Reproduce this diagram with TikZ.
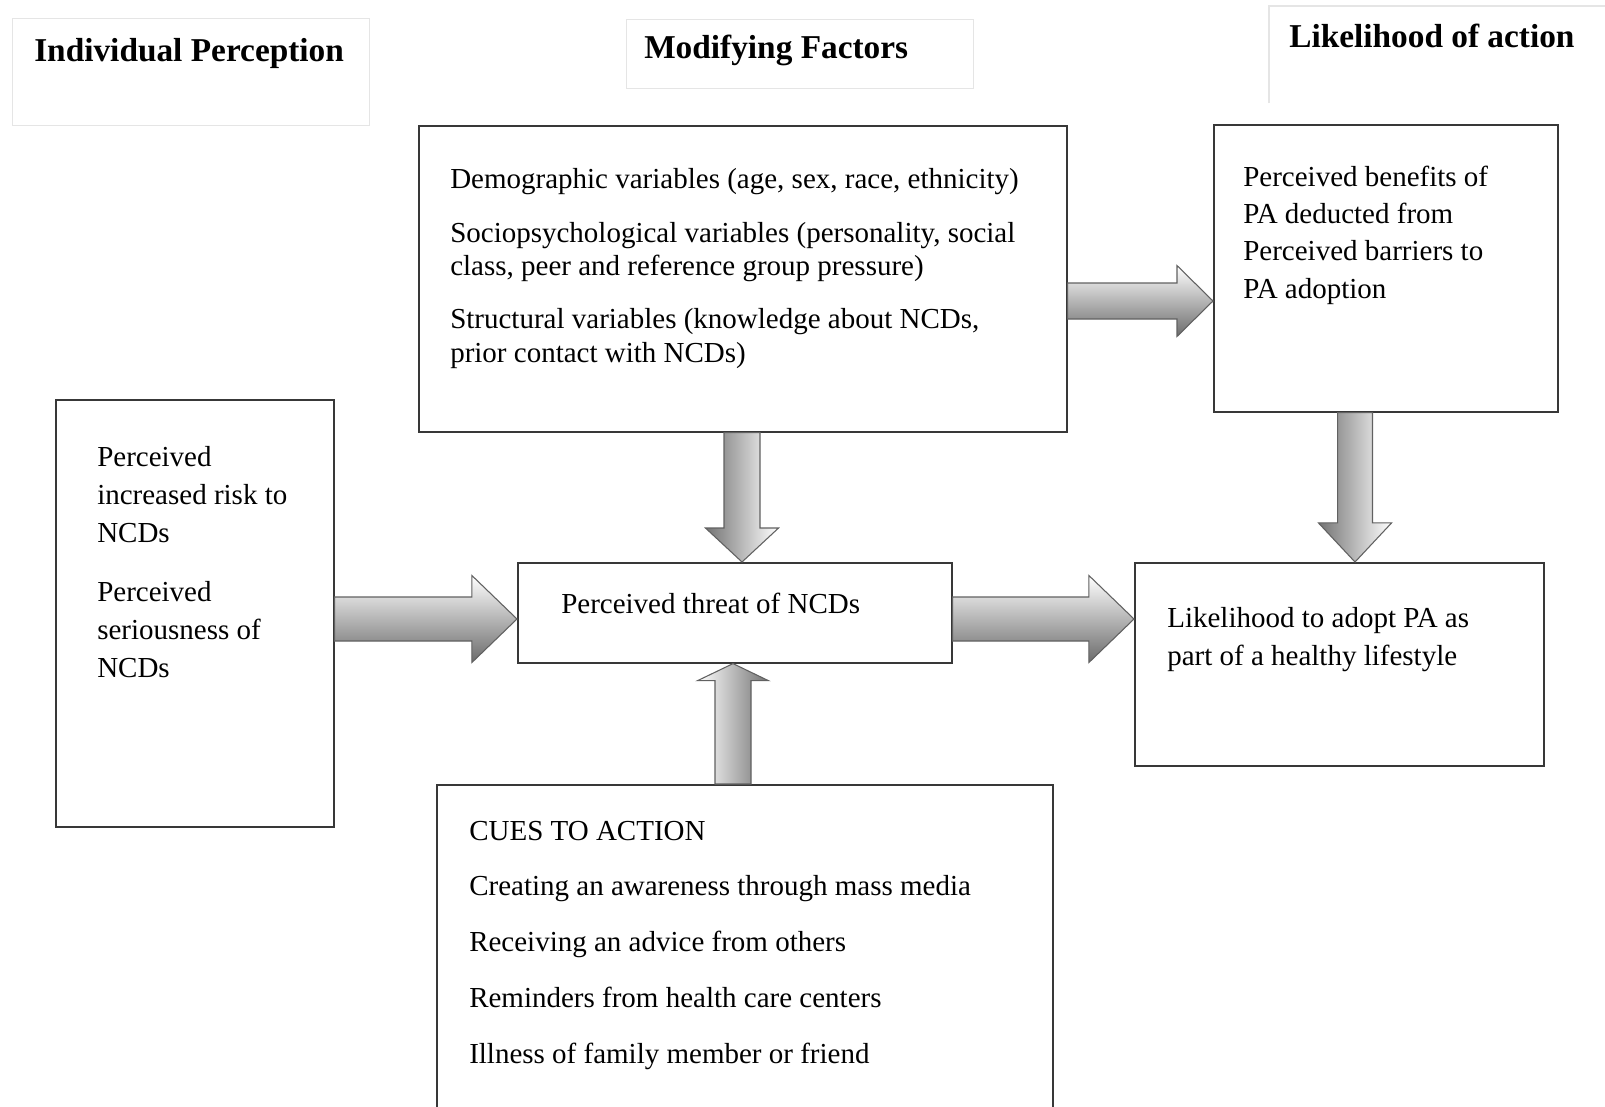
\documentclass[tikz,border=0pt]{standalone}
\usepackage{fontspec}
\setmainfont{Liberation Serif}
\usetikzlibrary{calc}
\tikzset{
  box/.style={draw=black!78, line width=1.2pt, inner sep=0pt, anchor=north west, fill=white},
  hbox/.style={draw=black!10, line width=1.1pt, inner sep=0pt, anchor=north west},
  txt/.style={anchor=base west, inner sep=0pt, align=left},
  headtxt/.style={anchor=base west, inner sep=0pt, font=\fontsize{25}{30}\selectfont\bfseries},
  barrow/.style={draw=black!62, line width=0.8pt},
  hshade/.style={top color=white, bottom color=black!58},
  dshade/.style={left color=black!55, right color=white},
  ushade/.style={left color=white, right color=black!55},
}
\newcommand\blkR[5]{\path[barrow,hshade] let \p1=(#1), \p2=(#2) in
  (\x1,\y2+#3) -- (\x2-#5,\y2+#3) -- (\x2-#5,\y2+#4) -- (\x2,\y2) --
  (\x2-#5,\y2-#4) -- (\x2-#5,\y2-#3) -- (\x1,\y2-#3) -- cycle;}
\newcommand\blkD[5]{\path[barrow,dshade] let \p1=(#1), \p2=(#2) in
  (\x2-#3,\y1) -- (\x2-#3,\y2+#5) -- (\x2-#4,\y2+#5) -- (\x2,\y2) --
  (\x2+#4,\y2+#5) -- (\x2+#3,\y2+#5) -- (\x2+#3,\y1) -- cycle;}
\newcommand\blkU[5]{\path[barrow,ushade] let \p1=(#1), \p2=(#2) in
  (\x2-#3,\y1) -- (\x2-#3,\y2-#5) -- (\x2-#4,\y2-#5) -- (\x2,\y2) --
  (\x2+#4,\y2-#5) -- (\x2+#3,\y2-#5) -- (\x2+#3,\y1) -- cycle;}
\begin{document}
\begin{tikzpicture}[x=0.75pt, y=-0.75pt]
\fill[white] (0,0) rectangle (1605,1106);
\useasboundingbox (0,0) rectangle (1605,1106);

% header boxes
\node[hbox, minimum width=357*0.75pt, minimum height=107*0.75pt] (h1) at (12,18) {};
\node[hbox, minimum width=347*0.75pt, minimum height=69*0.75pt] (h2) at (626,19) {};
\coordinate (h3a) at (1269,103);
\coordinate (h3b) at (1269,6);
\coordinate (h3c) at (1625,6);
\draw[draw=black!10, line width=1.1pt] (h3a) -- (h3b) -- (h3c);
\node[headtxt] (t1) at (34,61) {Individual Perception};
\node[headtxt] (t2) at (644,59) {Modifying Factors};
\node[headtxt] (t3) at (1289,48) {Likelihood of action};

% main boxes
\node[box, minimum width=648*0.75pt, minimum height=306*0.75pt] (mod) at (418,125) {};
\node[box, minimum width=344*0.75pt, minimum height=287*0.75pt] (ben) at (1213,124) {};
\node[box, minimum width=278*0.75pt, minimum height=427*0.75pt] (left) at (55,399) {};
\node[box, minimum width=434*0.75pt, minimum height=100*0.75pt] (threat) at (517,562) {};
\node[box, minimum width=409*0.75pt, minimum height=203*0.75pt] (like) at (1134,562) {};
\node[box, minimum width=616*0.75pt, minimum height=360*0.75pt] (cues) at (436,784) {};

% texts (base anchor = baseline of the last line)
\node[txt, font=\fontsize{21.75}{25}\selectfont] (tmod) at (450,362)
 {Demographic variables (age, sex, race, ethnicity)\\[15pt]
  Sociopsychological variables (personality, social\\
  class, peer and reference group pressure)\\[15pt]
  Structural variables (knowledge about NCDs,\\
  prior contact with NCDs)};
\node[txt, font=\fontsize{21.75}{27.9}\selectfont] (tben) at (1243,298)
 {Perceived benefits of\\ PA deducted from\\ Perceived barriers to\\ PA adoption};
\node[txt, font=\fontsize{21.75}{28.5}\selectfont] (tleft) at (97,677)
 {Perceived\\ increased risk to\\ NCDs\\[15.75pt] Perceived\\ seriousness of\\ NCDs};
\node[txt, font=\fontsize{21.75}{28.5}\selectfont] (tthreat) at (561,613)
 {Perceived threat of NCDs};
\node[txt, font=\fontsize{21.75}{28.5}\selectfont] (tlike) at (1167,665)
 {Likelihood to adopt PA as\\ part of a healthy lifestyle};
\node[txt, font=\fontsize{21.75}{41.8}\selectfont] (tcues) at (469,1063)
 {CUES TO ACTION\\ Creating an awareness through mass media\\ Receiving an advice from others\\ Reminders from health care centers\\ Illness of family member or friend};

% block arrows
\blkR{mod.east}{ben.west |- 0,301}{13.5pt}{26.6pt}{27pt}
\blkD{mod.south}{threat.north -| 742,0}{13.5pt}{27.4pt}{25.5pt}
\blkD{ben.south}{like.north -| 1355,0}{13.1pt}{27.4pt}{29.3pt}
\blkR{left.east}{threat.west |- 0,619}{16.5pt}{32.6pt}{33.8pt}
\blkR{threat.east}{like.west |- 0,619}{16.5pt}{32.6pt}{33.8pt}
\blkU{cues.north}{threat.south -| 733,0}{13.5pt}{26.6pt}{12.8pt}
\end{tikzpicture}
\end{document}
